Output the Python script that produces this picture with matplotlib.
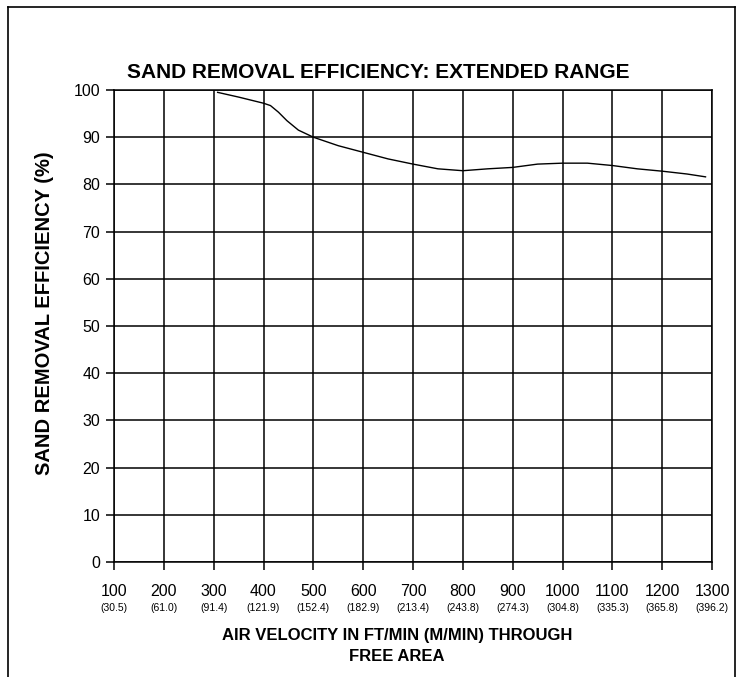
import numpy as np
import matplotlib
matplotlib.use("Agg")
from matplotlib import pyplot as plt
from matplotlib.lines import Line2D

plt.rcParams['font.family'] = ['Liberation Sans', 'DejaVu Sans']

# curve
velocity = [308, 350, 400, 414, 430, 447, 470, 500, 550, 600, 650, 700, 750,
            800, 850, 900, 950, 1000, 1050, 1100, 1150, 1200, 1250, 1287]
efficiency = [99.5, 98.5, 97.2, 96.7, 95.3, 93.5, 91.5, 90.0, 88.2, 86.8, 85.4,
              84.3, 83.3, 82.9, 83.3, 83.6, 84.3, 84.5, 84.5, 84.0, 83.3, 82.8,
              82.2, 81.6]

x_ticks = [100, 200, 300, 400, 500, 600, 700, 800, 900, 1000, 1100, 1200, 1300]
x_metric = ['(30.5)', '(61.0)', '(91.4)', '(121.9)', '(152.4)', '(182.9)', '(213.4)',
            '(243.8)', '(274.3)', '(304.8)', '(335.3)', '(365.8)', '(396.2)']
y_ticks = [0, 10, 20, 30, 40, 50, 60, 70, 80, 90, 100]

W, H = 744, 677
fig = plt.figure(figsize=(W/100, H/100), dpi=100)
ax = fig.add_axes([114/W, 1-562/H, 598/W, 472/H])

ax.plot(velocity, efficiency, color='black', lw=1.0)

ax.set_xlim(100, 1300)
ax.set_ylim(0, 100)
ax.set_xticks(x_ticks)
ax.set_yticks(y_ticks)
ax.grid(True, color='black', lw=1.1)
for s in ax.spines.values():
    s.set_color('black')
    s.set_linewidth(1.1)
ax.tick_params(direction='out', length=6, width=1.1, color='black')
ax.tick_params(axis='y', labelsize=11.5, pad=4)
ax.tick_params(axis='x', labelsize=11.5, pad=10)

# metric values under the ft/min labels
for xv, lab in zip(x_ticks, x_metric):
    ax.text(xv, -0.097, lab, transform=ax.get_xaxis_transform(),
            ha='center', va='center', fontsize=7.5)

fig.text(378/W, 1-72/H, 'SAND REMOVAL EFFICIENCY: EXTENDED RANGE',
         ha='center', va='center', fontsize=15, fontweight='bold')
fig.text(45/W, 1-313/H, 'SAND REMOVAL EFFICIENCY (%)', rotation=90,
         ha='center', va='center', fontsize=14.5, fontweight='bold')
fig.text(397/W, 1-646/H, 'AIR VELOCITY IN FT/MIN (M/MIN) THROUGH\nFREE AREA',
         ha='center', va='center', fontsize=12, fontweight='bold',
         linespacing=1.45)

# outer frame (bottom edge is cut off in the source)
frame = [((8/W, 8/W), (0, 1-7/H)), ((8/W, 735/W), (1-7/H, 1-7/H)),
         ((735/W, 735/W), (1-7/H, 0))]
for xs, ys in frame:
    fig.add_artist(Line2D(xs, ys, color='black', lw=1.2, transform=fig.transFigure))

fig.savefig('out.png', dpi=100)
